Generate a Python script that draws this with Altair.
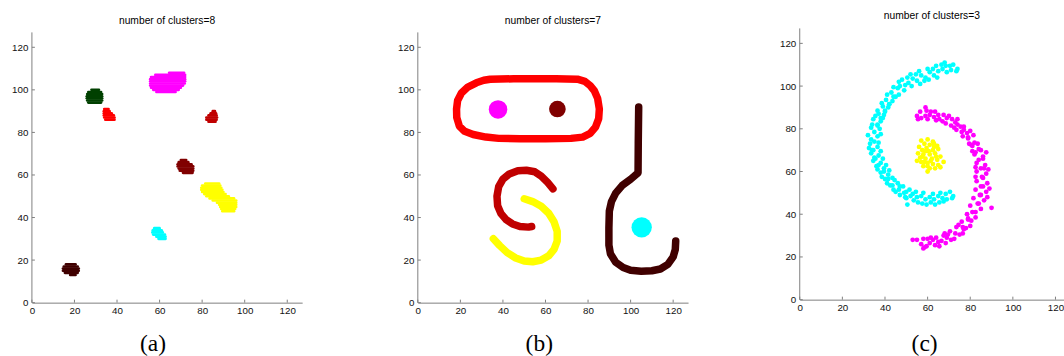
import altair as alt
import pandas as pd

# ---------------- data ----------------
TICKS = [0, 20, 40, 60, 80, 100, 120]
Y_AXIS_END = 127          # top of the drawn y-axis line (data units)
TITLES = ["number of clusters=8", "number of clusters=7", "number of clusters=3"]
CAPTIONS = ["(a)", "(b)", "(c)"]

# (a) eight compact clusters, read as horizontal row spans: (y, x from, x to)
A_COLORS = ["#004000", "#ff0000", "#ff00ff", "#c00000", "#800000", "#ffff00", "#00ffff", "#400000"]
A_GREEN = [(100, 28, 31.5), (99, 26.5, 32.5), (98, 26, 33), (97, 25.8, 33), (96, 25.8, 33), (95, 26, 33), (94, 26.5, 32.5)]
A_RED = [(91, 34, 36), (90, 33.8, 36.5), (89, 33.8, 37.5), (88, 33.8, 38.5), (87, 34, 38.8), (86, 34.5, 38.8)]
A_MAGENTA = [(108, 64.5, 71.5), (107, 58, 72), (106, 56, 72), (105, 55.6, 72), (104, 55.6, 72), (103, 55.6, 71.8),
             (102, 55.6, 71), (101, 56, 70), (100, 57, 69), (99, 58.5, 67.5)]
A_FIREBRICK = [(90, 85, 86), (89, 84, 86.5), (88, 83, 86.8), (87, 82, 87), (86, 82, 86.8), (85, 83, 86.3)]
A_MAROON = [(67, 70, 72.5), (66, 69, 73.5), (65, 68.5, 75), (64, 68.5, 75.8), (63, 69, 75.8), (62, 69.5, 75.8), (61, 71, 75.5)]
A_YELLOW = [(56, 81.5, 88), (55, 80, 88.5), (54, 79.6, 89), (53, 79.6, 89.5), (52, 80, 90), (51, 81, 91), (50, 82, 92.5),
            (49, 83.5, 95), (48, 85, 96), (47, 87, 96), (46, 88, 96), (45, 88.5, 96), (44, 89, 95.5), (43, 89.5, 95)]
A_CYAN = [(35, 57.5, 60), (34, 56.8, 61), (33, 56.6, 61.5), (32, 57, 62.5), (31, 58.5, 62.8), (30, 59.5, 62.8)]
A_DARK = [(18, 16, 20.5), (17, 15, 21.5), (16, 14.6, 22), (15, 14.6, 22), (14, 15.5, 21.5), (13, 18, 20.5)]
A_BLOBS = [A_GREEN, A_RED, A_MAGENTA, A_FIREBRICK, A_MAROON, A_YELLOW, A_CYAN, A_DARK]

# (b) four stroke-like clusters (centre lines) and three round blobs
B_LINE_COLORS = ["#ff0000", "#c00000", "#ffff00", "#400000"]
B_LOOP = [(34, 105), (45, 105.2), (55, 105.2), (65, 105.2), (75, 105), (78.5, 104), (81, 102), (83, 99.5), (84.5, 96),
          (85.3, 91), (85, 86.5), (83.5, 82.5), (81, 79.5), (77.5, 77.8), (72, 77.2), (60, 77), (48, 77), (38, 77.2),
          (32, 77.8), (26, 79), (22, 80.5), (19.5, 83), (18.3, 87), (18.2, 91), (18.7, 95), (20.5, 98.5), (23.5, 101.3),
          (27.5, 103.3), (31, 104.5), (34, 105)]
B_S = [(63.5, 53.5), (61, 56.5), (58, 59.5), (55, 61.5), (51, 62.2), (47, 62), (43, 60.5), (40, 58), (38, 54.5),
       (37.2, 50), (37.5, 45.5), (39, 42), (41.5, 39), (44.5, 37), (48, 35.8), (52, 35.5), (53.5, 35.8)]
B_ARC = [(50, 48.8), (54, 47.5), (58, 45.3), (61.5, 42), (64, 38), (65.5, 33.5), (65.5, 29), (64, 25), (61.5, 22),
         (58, 20), (54, 19.2), (50, 19.6), (46, 21), (42, 23.5), (38.5, 26.8), (35.5, 30)]
B_HOOK = [(103.8, 92), (103.6, 75), (103.5, 61), (100, 58), (96, 55), (93, 51.5), (91, 47.5), (90, 43), (89.8, 35),
          (89.8, 27), (90.5, 23), (93, 19), (96.5, 16.5), (100, 15.2), (105, 14.8), (110, 15), (114, 15.8),
          (117.5, 18), (120, 21.5), (121, 25), (121.2, 29)]
B_LINES = [B_LOOP, B_S, B_ARC, B_HOOK]
B_DOT_COLORS = ["#ff00ff", "#800000", "#00ffff"]
B_DOT_X = [37.7, 65.6, 105.2]
B_DOT_Y = [90.8, 91.0, 35.4]

# (c) two noisy spiral arms and a central core (individual points)
C_COLORS = ["#00ffff", "#ff00ff", "#ffff00"]
C_CYAN = [
    (73.5, 107), (72, 110), (71, 107.5), (70.5, 109.5), (74, 108),
    (68, 111), (67, 108), (69, 106.5), (66.5, 110), (68.5, 109.5),
    (64, 109.5), (63, 105), (65, 107), (62.5, 108), (64.5, 104),
    (60, 108), (59, 104), (61, 106.5), (58.5, 102.5), (60.5, 103),
    (56, 107), (55, 102.5), (57, 105), (54.5, 105.5), (56.5, 101),
    (52, 105.5), (51, 101.5), (53, 103.5), (50.5, 104), (52.5, 100),
    (48, 103), (47, 100), (49.5, 100.5), (46.5, 102), (49, 98),
    (44, 99.5), (46.5, 96), (45, 95), (43, 97), (46, 99),
    (41, 96), (43.5, 93), (42, 91.5), (40.5, 93.5), (44, 95),
    (38.5, 92), (41.5, 90), (40, 88), (39, 90.5), (42, 91.5),
    (36.5, 88.5), (39.5, 86.5), (38, 85), (37, 87), (40, 88.5),
    (34.5, 84.5), (38, 83.5), (36.5, 82), (35.5, 86), (39, 85),
    (33.5, 80.5), (37.5, 80), (35, 78.5), (36.5, 81.5), (34, 82),
    (32, 77), (33.5, 75), (36.5, 76.5), (35, 74), (38, 77.5),
    (33, 73), (36.5, 71.5), (34.5, 70), (37, 73.5), (32.5, 71),
    (33.5, 68.5), (37, 67.5), (35, 66.5), (38, 69.5), (34, 70),
    (34.5, 65), (38, 64), (36, 62.5), (39, 66), (35.5, 66),
    (36.5, 61), (39.5, 61.5), (38, 59.5), (40.5, 63), (37, 63),
    (38.5, 57.5), (41.5, 58.5), (40, 56.5), (42, 60.5), (39.5, 60),
    (41, 54.5), (43.5, 57), (42.5, 53.5), (44.5, 56), (41.5, 56.5),
    (44, 51.5), (46, 54.5), (45, 50.5), (47, 53), (43.5, 53.5),
    (47, 49), (48.5, 53), (49, 50), (46.5, 51.5), (49.5, 48),
    (50, 47.5), (51.5, 51.5), (52, 48.5), (50, 50.5), (50.5, 44.5),
    (53.5, 46.5), (54.5, 50.5), (55, 48), (53, 49.5), (55.5, 45.5),
    (57.5, 45), (58, 50), (59, 47), (57, 48.5), (59.5, 44.5),
    (61.5, 45.5), (62.5, 49.5), (63, 47), (61, 48), (63.5, 44.5),
    (65.5, 45.5), (66, 50), (67, 47.5), (65, 48.5), (67.5, 46),
    (69, 47), (70.5, 50.5), (71.5, 47.5), (68.5, 49.5), (72, 48.5),
]
C_MAGENTA = [
    (55, 86), (56.5, 88), (57, 85), (55.5, 84.5), (59, 90),
    (59.5, 88.5), (60, 84.5), (61, 86.5), (59, 86), (61.5, 88),
    (63.5, 88), (64, 84), (65, 86.5), (63, 85.5), (65.5, 84.5),
    (67.5, 86.5), (68.5, 82.5), (69, 85), (67, 83.5), (70, 86),
    (71.5, 84.5), (72.5, 80.5), (73, 83), (71, 81.5), (74, 84.5),
    (74, 82), (76, 78.5), (75.5, 81), (73.5, 79.5), (77, 81),
    (77, 79.5), (79, 75.5), (78.5, 78), (76.5, 76.5), (80, 79),
    (79, 76), (82, 73.5), (80.5, 72.5), (81.5, 77), (79.5, 73),
    (81, 72), (84, 70.5), (82.5, 69), (83.5, 73), (81, 69.5),
    (82, 68), (86, 67), (84, 65.5), (85, 70), (87.5, 69),
    (83, 64), (87, 63), (85, 61.5), (86, 66), (82.5, 62),
    (83, 60), (87.5, 59), (85.5, 57.5), (86.5, 61.5), (88.5, 61),
    (83, 55.5), (88, 54.5), (85, 53), (86, 57), (82.5, 57.5),
    (82.5, 51.5), (87.5, 50.5), (84.5, 49), (86, 53), (89, 52),
    (81.5, 47.5), (86.5, 46.5), (84, 45), (85, 49), (88, 48),
    (80, 44), (85, 42.5), (82.5, 41), (83.5, 45), (90, 43),
    (78.5, 40), (82.5, 38.5), (80.5, 37), (81, 41), (79, 38),
    (76, 36.5), (80, 34.5), (78, 33.5), (79, 37.5), (76.5, 34),
    (73.5, 34), (76.5, 31), (75, 30.5), (74.5, 35), (77, 33),
    (70.5, 32), (72.5, 28.5), (71, 28), (73, 31), (69.5, 30.5),
    (67.5, 30), (68.5, 26.5), (69, 29), (66.5, 27.5), (68, 31),
    (64, 29), (63.5, 25.5), (65, 27), (62.5, 28), (65.5, 25),
    (60, 28.5), (59.5, 25), (61, 26.5), (58.5, 24.5), (61.5, 29),
    (57, 26), (58, 28.5), (53, 28), (55, 28), (58, 24),
]
C_YELLOW = [
    (57, 74.5), (60, 75), (62.5, 74), (58.5, 73), (61, 72.5), (56, 71.5), (59.5, 71), (63, 71.5), (57.5, 70),
    (60.5, 69.5), (62.5, 70), (65, 70.5), (55.5, 68.5), (58, 68), (61, 68), (63.5, 68.5), (66, 67), (56.5, 66.5),
    (59, 66), (62, 66), (64.5, 65.5), (67.5, 64.5), (57, 64.5), (60, 64), (62.5, 63.5), (65, 63), (58, 62.5),
    (61, 61.5), (63.5, 61.5), (60, 60), (59, 69.5), (57.5, 67), (64, 67), (61.5, 65), (55, 65), (66, 62),
    (58.5, 64.5), (63, 73), (60, 62.5), (64.5, 72),
]
C_CLUSTERS = [C_CYAN, C_MAGENTA, C_YELLOW]

# ---------------- styles ----------------
GRAY = "#808080"
SANS = "Liberation Sans"
SERIF = "Liberation Serif"
B_DOT_SIZES = [346, 278, 415]


def make_panel(i, xmax, ymax, width, height, data_layers, cap_x, cap_y, title_offset):
    xs = alt.Scale(domain=[0, xmax], nice=False, zero=False)
    ys = alt.Scale(domain=[0, ymax], nice=False, zero=False)
    x_axis = alt.Axis(values=TICKS, title=CAPTIONS[i], titleX=cap_x, titleY=cap_y, titleAlign="center",
                      titleBaseline="middle", titleFont=SERIF, titleFontSize=23.5, titleFontWeight="normal",
                      titleColor="black", labelFont=SANS, labelFontSize=9.8, labelColor="#111111",
                      labelPadding=3, labelFlush=False, labelOverlap=False, ticks=False, tickSize=0,
                      domainColor=GRAY, domainWidth=1, grid=False)
    y_axis = alt.Axis(values=TICKS, title=None, labelFont=SANS, labelFontSize=9.8, labelColor="#111111",
                      labelPadding=4, labelFlush=False, labelOverlap=False, ticks=False, tickSize=0,
                      domain=False, grid=False)

    def X(f):
        return alt.X(f, type="quantitative", scale=xs, axis=x_axis)

    def Y(f):
        return alt.Y(f, type="quantitative", scale=ys, axis=y_axis)

    layers = [layer(X, Y) for layer in data_layers]
    tdf = pd.DataFrame({"t": TICKS})
    # y-axis line (from 0 to the axis end)
    layers.append(alt.Chart(pd.DataFrame({"lo": [0], "hi": [Y_AXIS_END]})).mark_rule(
        color=GRAY, strokeWidth=1).encode(y=Y("lo"), y2="hi", x=alt.value(0)))
    # inward tick marks
    layers.append(alt.Chart(tdf).mark_rule(color=GRAY, strokeWidth=1).encode(
        x=X("t"), y=alt.value(height), y2=alt.value(height - 3)))
    layers.append(alt.Chart(tdf).mark_rule(color=GRAY, strokeWidth=1).encode(
        y=Y("t"), x=alt.value(0), x2=alt.value(3)))
    return alt.layer(*layers).properties(
        width=width, height=height,
        title=alt.TitleParams(TITLES[i], font=SANS, fontSize=10.3, fontWeight="normal", color="black",
                              offset=title_offset, anchor="middle"))


# --- panel (a)
a_rows = []
for k, blob in enumerate(A_BLOBS):
    for (yy, x0, x1) in blob:
        a_rows.append({"y": yy, "x0": x0, "x1": x1, "color": A_COLORS[k], "id": k})
a_df = pd.DataFrame(a_rows)


def a_layer(X, Y):
    return alt.Chart(a_df).mark_rule(strokeWidth=2.7, strokeCap="round").encode(
        x=X("x0"), x2="x1", y=Y("y"), color=alt.Color("color:N", scale=None), detail="id:N")


# --- panel (b)
b_rows = []
for k, line in enumerate(B_LINES):
    for j, (xx, yy) in enumerate(line):
        b_rows.append({"x": xx, "y": yy, "k": j, "id": k, "color": B_LINE_COLORS[k]})
b_df = pd.DataFrame(b_rows)


def b_line_layer(X, Y):
    return alt.Chart(b_df).mark_line(strokeWidth=7.5, strokeCap="round", strokeJoin="round").encode(
        x=X("x"), y=Y("y"), order="k:Q", detail="id:N", color=alt.Color("color:N", scale=None))


def b_dot_layer_factory(k):
    d = pd.DataFrame({"x": [B_DOT_X[k]], "y": [B_DOT_Y[k]]})

    def f(X, Y):
        return alt.Chart(d).mark_circle(size=B_DOT_SIZES[k], opacity=1, color=B_DOT_COLORS[k]).encode(
            x=X("x"), y=Y("y"))
    return f


# --- panel (c)
c_rows = []
for k, pts in enumerate(C_CLUSTERS):
    for (xx, yy) in pts:
        c_rows.append({"x": xx, "y": yy, "color": C_COLORS[k]})
c_df = pd.DataFrame(c_rows)


def c_layer(X, Y):
    return alt.Chart(c_df).mark_circle(size=23, opacity=1).encode(
        x=X("x"), y=Y("y"), color=alt.Color("color:N", scale=None))


# panels (a) and (b) sit 4 px lower than (c); their plot boxes start at the same top
# but carry 4 px of extra (empty) y-range above the axis end.
panel_a = make_panel(0, 127, 128.87, 271, 275, [a_layer], 121, 41, 2)
panel_b = make_panel(1, 127, 128.87, 271, 275, [b_line_layer] + [b_dot_layer_factory(k) for k in range(3)],
                     121.3, 41, 2)
panel_c = make_panel(2, 124, 127, 265, 272, [c_layer], 124.7, 44, 7)

inner = alt.hconcat(panel_a, panel_b, spacing=95, bounds="full")
chart = alt.hconcat(inner, panel_c, spacing=91, bounds="full").properties(
    padding={"left": 11, "top": 10, "right": 0, "bottom": 0}
).configure_view(stroke=None)

chart.save("out.html", embed_options={"renderer": "svg", "actions": False})
